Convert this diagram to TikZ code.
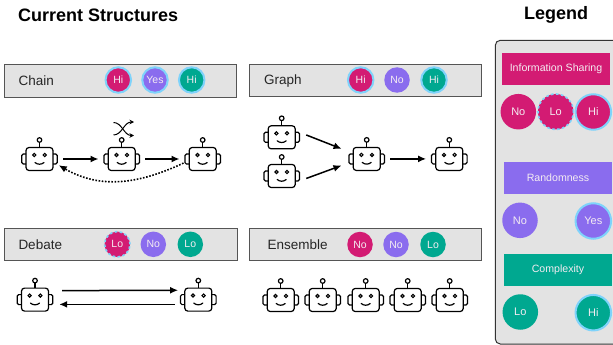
\documentclass[tikz,border=0pt]{standalone}
\usepackage{fontspec}
\setmainfont{Liberation Sans}
\usepackage{xcolor}
\usetikzlibrary{arrows.meta}

\definecolor{infocol}{HTML}{D31B73}
\definecolor{randcol}{HTML}{8A6CEE}
\definecolor{compcol}{HTML}{00A890}
\definecolor{halocol}{HTML}{7FD3FB}
\definecolor{barcol}{HTML}{E3E3E3}
\definecolor{edgecol}{HTML}{555555}
\definecolor{chiptext}{HTML}{F4ECF2}

\tikzset{
  title/.style={font=\fontsize{18}{20}\selectfont\bfseries, inner sep=0pt},
  bar/.style={draw=edgecol, fill=barcol, line width=1pt, minimum height=32pt, inner sep=0pt},
  barlabel/.style={font=\fontsize{13.5}{15}\selectfont, text=black!85, anchor=west, inner sep=0pt},
  chip/.style={circle, minimum size=25.5pt, inner sep=0pt, text=chiptext, font=\fontsize{10.5}{12}\selectfont},
  bigchip/.style={chip, minimum size=35.5pt, font=\fontsize{11}{12}\selectfont},
  high/.style={draw=halocol, line width=2pt},
  low/.style={draw=halocol, line width=1.6pt, dash pattern=on 2.5pt off 2.5pt},
  head/.style={minimum width=108pt, minimum height=32pt, inner sep=0pt, text=chiptext, font=\fontsize{10.6}{12}\selectfont},
  flow/.style={-{Latex[length=8pt,width=7pt]}, line width=1.5pt, shorten <=4.5pt, shorten >=4pt},
  robotface/.pic={
    \draw[line width=1.2pt, rounded corners=1.5pt] (-13.5,-5) -- (-17.8,-5) -- (-17.8,5) -- (-13.5,5);
    \draw[line width=1.2pt, rounded corners=1.5pt] (13.5,-5) -- (17.8,-5) -- (17.8,5) -- (13.5,5);
    \draw[line width=1.2pt, rounded corners=3pt] (-13.5,-11.5) rectangle (13.5,11.5);
    \draw[line width=1.2pt] (0,-11.5) -- (0,-16.7);
    \draw[line width=1.2pt] (0,-19) circle (2.3);
    \draw[line width=1.1pt] (-5.3,-4) circle (1.6);
    \draw[line width=1.1pt] (5.3,-4) circle (1.6);
    \draw[line width=1.2pt, line cap=round] (-4.5,3.5) .. controls (-2,5.8) and (2,5.8) .. (4.5,3.5);
  },
  robot/.style={minimum width=38pt, minimum height=46pt, inner sep=0pt,
    path picture={\pic at (path picture bounding box.center) {robotface};}},
}

\begin{document}
\begin{tikzpicture}[x=1pt, y=-1pt]
\useasboundingbox (0,0) rectangle (613,345);

% titles
\node[title, anchor=west] (current) at (18,15) {Current Structures};
\node[title] (legend) at (556,15) {Legend};

% chain
\node[bar, minimum width=232pt] (chainbar) at (120.5,81) {};
\node[barlabel] (chainlabel) at (18.5,81) {Chain};
\node[chip, fill=infocol, high] (chain1) at (118.3,80) {Hi};
\node[chip, fill=randcol, high] (chain2) at (155,80) {Yes};
\node[chip, fill=compcol, high] (chain3) at (191.7,80) {Hi};

\node[robot] (c1) at (39.5,159) {};
\node[robot] (c2) at (121.7,159) {};
\node[robot] (c3) at (202.7,159) {};
\draw[flow] (c1) -- (c2);
\draw[flow] (c2) -- (c3);
\draw[-{Latex[length=8pt,width=7pt]}, line width=1.6pt, dash pattern=on 1.6pt off 1.6pt] (c3.192) to[out=205, in=-30] (c1.-18);

% shuffle mark over the middle robot
\draw[-{Stealth[length=4.5pt,width=4.5pt]}, line width=1pt] (113.5,122.5) .. controls (122,122.5) and (124,135.5) .. (134,135.5);
\draw[-{Stealth[length=4.5pt,width=4.5pt]}, line width=1pt] (113.5,135) .. controls (122,135) and (124,122) .. (134,122);

% graph
\node[bar, minimum width=232pt] (graphbar) at (365.7,80.7) {};
\node[barlabel] (graphlabel) at (264,81) {Graph};
\node[chip, fill=infocol, high] (graph1) at (360.7,80) {Hi};
\node[chip, fill=randcol] (graph2) at (397,80) {No};
\node[chip, fill=compcol, high] (graph3) at (434,80) {Hi};

\node[robot] (g1) at (281.7,137.3) {};
\node[robot] (g2) at (281.7,176) {};
\node[robot] (g3) at (366.7,158.9) {};
\node[robot] (g4) at (449.3,158.9) {};
\draw[flow, shorten <=5.7pt, shorten >=6.4pt] (g1.13) -- (g3.158);
\draw[flow, shorten <=5.7pt, shorten >=6.4pt] (g2.-13) -- (g3.193);
\draw[flow] (g3) -- (g4);

% debate
\node[bar, minimum width=233pt] (debatebar) at (120.7,244) {};
\node[barlabel] (debatelabel) at (18.3,245) {Debate};
\node[chip, fill=infocol, low] (debate1) at (117.3,244.3) {Lo};
\node[chip, fill=randcol] (debate2) at (153.3,244.3) {No};
\node[chip, fill=compcol] (debate3) at (190.3,244.3) {Lo};

\node[robot] (d1) at (35,299.6) {};
\node[robot] (d2) at (198.3,299.6) {};
\draw[flow, shorten <=8pt, shorten >=1pt] (d1.25.3) -- (d2.154.7);
\draw[flow, shorten <=4.3pt, shorten >=5pt] (d2.194.7) -- (d1.-14.7);

% ensemble
\node[bar, minimum width=232pt] (ensemblebar) at (365,244.7) {};
\node[barlabel] (ensemblelabel) at (267.3,245) {Ensemble};
\node[chip, fill=infocol] (ensemble1) at (360,244.5) {No};
\node[chip, fill=randcol] (ensemble2) at (396,244.5) {No};
\node[chip, fill=compcol] (ensemble3) at (433,244.5) {Lo};

\foreach \name/\xpos in {e1/280.7, e2/322.7, e3/365.7, e4/407.7, e5/449.7}
  \node[robot] (\name) at (\xpos,300) {};

% legend
\draw[draw=black!80, fill=barcol, line width=1pt, rounded corners=5pt] (495.3,40.3) rectangle (630,344);

\node[head, fill=infocol] (info) at (556,69) {Information Sharing};
\node[bigchip, fill=infocol] (info1) at (518.3,111.7) {No};
\node[bigchip, fill=infocol, low] (info2) at (555.7,111.7) {Lo};
\node[bigchip, fill=infocol, high] (info3) at (593.3,112) {Hi};

\node[head, fill=randcol] (rand) at (558,178) {Randomness};
\node[bigchip, fill=randcol] (rand1) at (520,220.3) {No};
\node[bigchip, fill=randcol, high] (rand2) at (593.3,221) {Yes};

\node[head, fill=compcol] (comp) at (558,270) {Complexity};
\node[bigchip, fill=compcol] (comp1) at (520.3,312) {Lo};
\node[bigchip, fill=compcol, high] (comp2) at (593.3,312.7) {Hi};

\end{tikzpicture}
\end{document}
